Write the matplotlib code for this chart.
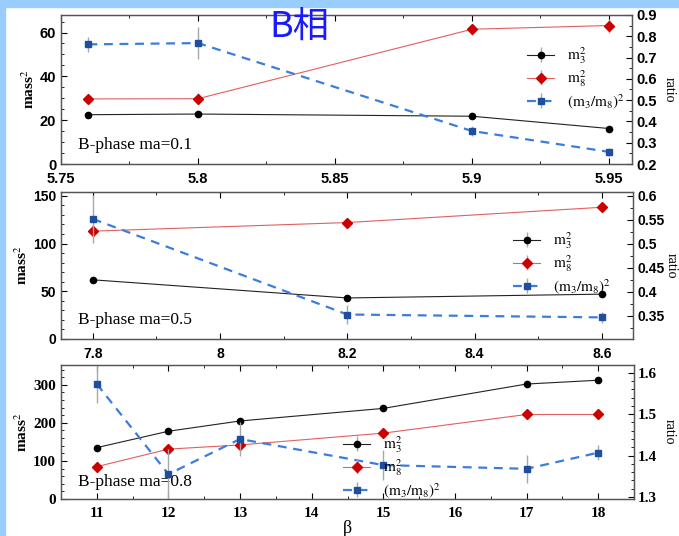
import matplotlib
matplotlib.use('Agg')
import matplotlib.pyplot as plt
from matplotlib.ticker import MultipleLocator, FuncFormatter
from matplotlib.font_manager import FontProperties
import matplotlib.patches as mpatches

plt.rcParams['mathtext.fontset'] = 'stix'

# ---------------- data ----------------
beta1 = [5.76, 5.8, 5.9, 5.95]
m3_1 = [22.5, 22.8, 21.8, 16.2]
m3_1_err = [0.4, 0.4, 0.5, 0.5]
m8_1 = [29.7, 29.8, 61.5, 63.2]
m8_1_err = [1.2, 2.5, 2.5, 3.2]
r_1 = [0.762, 0.768, 0.355, 0.257]
r_1_err = [0.035, 0.075, 0.022, 0.02]

beta2 = [7.8, 8.2, 8.6]
m3_2 = [62, 43, 47]
m3_2_err = [1.0, 1.0, 1.0]
m8_2 = [113, 122, 138]
m8_2_err = [6, 5, 4]
r_2 = [0.552, 0.353, 0.347]
r_2_err = [0.05, 0.02, 0.012]

beta3 = [11, 12, 13, 15, 17, 18]
m3_3 = [135, 178, 205, 238, 302, 312]
m3_3_err = [2, 2, 3, 3, 3, 3]
m8_3 = [85, 131, 142, 173, 222, 222]
m8_3_err = [3, 3, 4, 4, 4, 4]
r_3 = [1.573, 1.355, 1.44, 1.377, 1.368, 1.407]
r_3_err = [0.045, 0.062, 0.04, 0.036, 0.034, 0.018]

labels = [r'$\mathrm{m}_3^2$', r'$\mathrm{m}_8^2$', r'$(\mathrm{m}_3/\mathrm{m}_8)^2$']
annot = ['B-phase ma=0.1', 'B-phase ma=0.5', 'B-phase ma=0.8']

W, H = 679, 536
fig = plt.figure(figsize=(W / 100, H / 100), dpi=100, facecolor='white')

# light blue frame (top band + left strip)
fig.patches.append(mpatches.Rectangle((0, 1 - 7 / H), 1, 7 / H, transform=fig.transFigure,
                                      color='#99ccff', zorder=0))
fig.patches.append(mpatches.Rectangle((0, 0), 5 / W, 1, transform=fig.transFigure,
                                      color='#99ccff', zorder=0))

def px_axes(x0, x1, y0, y1):
    return [x0 / W, 1 - y1 / H, (x1 - x0) / W, (y1 - y0) / H]

ecol = '#a8a8a8'
gfmt = FuncFormatter(lambda v, p: '%g' % round(v, 6))

def panel(rect, x, m3, m3e, m8, m8e, r, re, xlim, ylim, rlim, xmaj, xmin, ymaj, ymin, rmaj, rmin,
          leg_anchor, text, tickfont, rlab_x=669, show_xlabel=False):
    ax = fig.add_axes(rect)
    ax2 = ax.twinx()
    h1 = ax.errorbar(x, m3, yerr=m3e, fmt='o-', color='#222222', lw=0.8, ms=4.5,
                     ecolor=ecol, elinewidth=1.0, capsize=0, mfc='black', mec='black')
    h2 = ax.errorbar(x, m8, yerr=m8e, fmt='D-', color='#e06060', lw=0.8, ms=5,
                     ecolor=ecol, elinewidth=1.0, capsize=0, mfc='#cc0000', mec='#cc0000')
    h3 = ax2.errorbar(x, r, yerr=re, fmt='s--', color='#3c7ddc', lw=1.6, ms=4,
                      ecolor=ecol, elinewidth=1.0, capsize=0, mfc='#1d4f9e', mec='#1d4f9e',
                      dashes=(4, 3))
    ax.set_xlim(*xlim)
    ax.set_ylim(*ylim)
    ax2.set_ylim(*rlim)
    ax.xaxis.set_major_locator(MultipleLocator(xmaj))
    ax.xaxis.set_minor_locator(MultipleLocator(xmin))
    ax.yaxis.set_major_locator(MultipleLocator(ymaj))
    ax.yaxis.set_minor_locator(MultipleLocator(ymin))
    ax2.yaxis.set_major_locator(MultipleLocator(rmaj))
    ax2.yaxis.set_minor_locator(MultipleLocator(rmin))
    ax.xaxis.set_major_formatter(gfmt)
    ax.yaxis.set_major_formatter(gfmt)
    ax2.yaxis.set_major_formatter(gfmt)
    ax.tick_params(which='both', direction='in', top=True, right=False)
    ax.tick_params(which='major', length=4)
    ax.tick_params(which='minor', length=2)
    ax.tick_params(axis='x', pad=6)
    ax2.tick_params(which='both', direction='in')
    ax2.tick_params(which='major', length=4, pad=3)
    ax2.tick_params(which='minor', length=2)
    for t in ax.get_xticklabels() + ax.get_yticklabels() + ax2.get_yticklabels():
        t.set_fontproperties(tickfont)
    for a in (ax, ax2):
        for s in a.spines.values():
            s.set_color('#555555')
            s.set_linewidth(0.9)
    ax.set_ylabel(r'mass$^2$', family='Liberation Serif', weight='bold', fontsize=11, labelpad=2)
    ax2.set_ylabel('ratio', family='Liberation Serif', fontsize=10, rotation=270,
                   va='center', ha='center')
    ax2.yaxis.set_label_coords((rlab_x - rect[0] * W) / (rect[2] * W), 0.5)
    ax.text(0.03, 0.13, text, transform=ax.transAxes, family='Liberation Serif', fontsize=12.5,
            va='center', ha='left', zorder=10)
    ax2.legend([h1, h2, h3], labels, loc='center left', bbox_to_anchor=leg_anchor,
               frameon=False, fontsize=11, handlelength=1.8, handletextpad=0.8,
               labelspacing=0.15, borderpad=0, borderaxespad=0)
    if show_xlabel:
        ax.set_xlabel('β', family='Liberation Serif', fontsize=13, labelpad=0)
    return ax, ax2

fp_sans = FontProperties(family='Liberation Sans', weight='bold', size=10.5)
fp_sans2 = FontProperties(family='Liberation Sans', weight='bold', size=10)
fp_serif = FontProperties(family='Liberation Serif', weight='bold', size=11)

panel(px_axes(61, 632, 15, 164), beta1, m3_1, m3_1_err, m8_1, m8_1_err, r_1, r_1_err,
      (5.75, 5.9584), (0, 68), (0.2, 0.9), 0.05, 0.025, 20, 5, 0.1, 0.05,
      (0.816, 0.577), annot[0], fp_sans)

panel(px_axes(61, 633, 192, 339), beta2, m3_2, m3_2_err, m8_2, m8_2_err, r_2, r_2_err,
      (7.75, 8.649), (0, 154), (0.302, 0.608), 0.2, 0.1, 50, 10, 0.05, 0.025,
      (0.79, 0.517), annot[1], fp_sans2, rlab_x=671)

panel(px_axes(61, 634, 365, 499), beta3, m3_3, m3_3_err, m8_3, m8_3_err, r_3, r_3_err,
      (10.5, 18.5), (0, 352), (1.295, 1.619), 1, 0.5, 100, 20, 0.1, 0.02,
      (0.492, 0.239), annot[2], fp_serif, show_xlabel=True)

fig.text(299 / W, 1 - 28 / H, 'B相', family=['Noto Sans CJK SC', 'DejaVu Sans'], fontsize=26,
         color='#1a1aff', ha='center', va='center')

fig.savefig('out.png', dpi=100, facecolor='white')
